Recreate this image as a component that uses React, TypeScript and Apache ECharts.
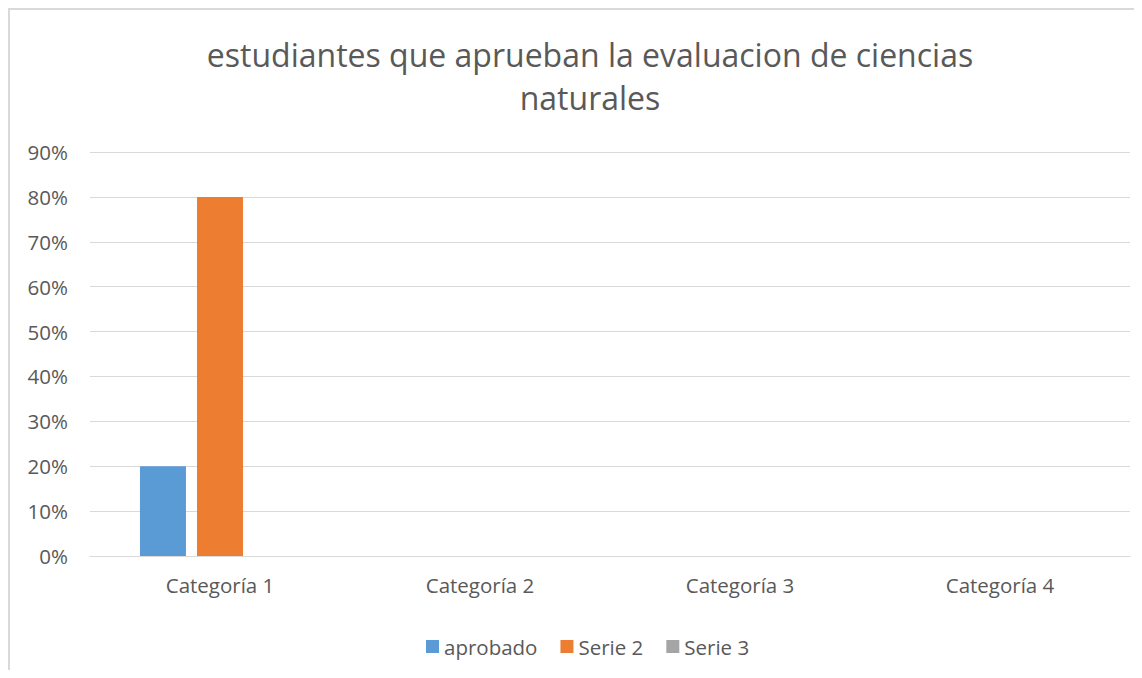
import React, { useEffect, useRef } from "react";
import * as echarts from "echarts";

const categories = ["Categoría 1", "Categoría 2", "Categoría 3", "Categoría 4"];
const aprobado = [20, 0, 0, 0];
const serie2 = [80, 0, 0, 0];
const serie3 = [0, 0, 0, 0];
const seriesNames = ["aprobado", "Serie 2", "Serie 3"];
const colors = ["#5B9BD5", "#ED7D31", "#A5A5A5"];
const titleText = "estudiantes que aprueban la evaluacion de ciencias\nnaturales";

const FONT = "'Open Sans', sans-serif";
const TEXT = "#595959";

export default function App() {
  const ref = useRef<HTMLDivElement>(null);
  useEffect(() => {
    if (!ref.current) return;
    const chart = echarts.init(ref.current, undefined, { renderer: "svg" });
    const data = [aprobado, serie2, serie3];
    chart.setOption({
      animation: false,
      color: colors,
      title: {
        text: titleText,
        left: 575,
        top: 18,
        textAlign: "center",
        textStyle: {
          fontFamily: FONT,
          fontSize: 32,
          fontWeight: "normal",
          color: TEXT,
          lineHeight: 43,
        },
      },
      legend: {
        bottom: 8,
        left: 411,
        data: seriesNames,
        icon: "rect",
        itemWidth: 13,
        itemHeight: 13,
        itemGap: 23,
        textStyle: { fontFamily: FONT, fontSize: 20.5, color: TEXT, padding: [0, 0, 0, 0] },
      },
      grid: { left: 80, right: 4, top: 142, bottom: 114, containLabel: false },
      xAxis: {
        type: "category",
        data: categories,
        axisLine: { show: true, lineStyle: { color: "#d9d9d9", width: 1 } },
        axisTick: { show: false },
        axisLabel: { fontFamily: FONT, fontSize: 20.5, color: TEXT, margin: 18 },
      },
      yAxis: {
        type: "value",
        min: 0,
        max: 90,
        interval: 10,
        axisLine: { show: false },
        axisTick: { show: false },
        splitLine: { lineStyle: { color: "#d9d9d9", width: 1 } },
        axisLabel: { fontFamily: FONT, fontSize: 20.5, color: TEXT, margin: 22, formatter: "{value}%" },
      },
      series: seriesNames.map((name, i) => ({
        name,
        type: "bar",
        data: data[i],
        barWidth: 46,
        barGap: "24%",
      })),
    });
    return () => chart.dispose();
  }, []);
  return (
    <div
      style={{
        width: 1126,
        height: 662,
        borderLeft: "2px solid #d9d9d9",
        borderTop: "2px solid #d9d9d9",
        boxSizing: "border-box",
      }}
    >
      <div ref={ref} style={{ width: 1124, height: 660 }} />
    </div>
  );
}
